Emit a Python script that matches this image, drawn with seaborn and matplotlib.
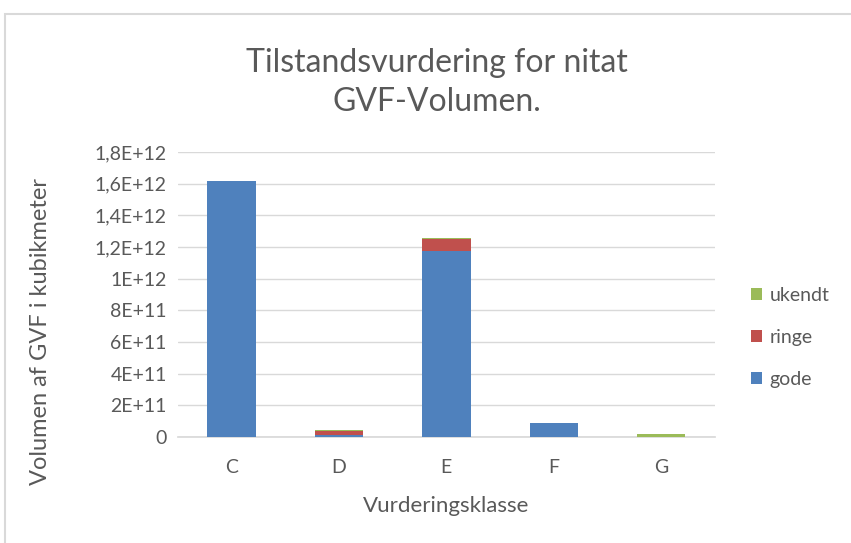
import numpy as np
import pandas as pd
import seaborn as sns
import matplotlib.pyplot as plt
from matplotlib.patches import Rectangle

sns.set_theme(style="white")
plt.rcParams['font.family'] = ['Lato', 'DejaVu Sans']

# data
klasser = ['C', 'D', 'E', 'F', 'G']
gode = [1.62e12, 1.5e10, 1.175e12, 8.8e10, 0.0]
ringe = [0.0, 2.2e10, 7.6e10, 0.0, 0.0]
ukendt = [0.0, 6e9, 5e9, 0.0, 1.8e10]
yticks = [0, 2e11, 4e11, 6e11, 8e11, 1e12, 1.2e12, 1.4e12, 1.6e12, 1.8e12]
ytick_labels = ['0', '2E+11', '4E+11', '6E+11', '8E+11', '1E+12',
                '1,2E+12', '1,4E+12', '1,6E+12', '1,8E+12']

colors = {'gode': '#4F81BD', 'ringe': '#C0504D', 'ukendt': '#9BBB59'}
txt = '#595959'

df = pd.DataFrame({'klasse': klasser, 'gode': gode, 'ringe': ringe, 'ukendt': ukendt})
df['gr'] = df['gode'] + df['ringe']
df['alle'] = df['gr'] + df['ukendt']

fig = plt.figure(figsize=(8.51, 5.43), dpi=100)
ax = fig.add_axes([0.209, 0.195, 0.631, 0.525])

# stacked bars: draw totals first, then overdraw lower parts
sns.barplot(data=df, x='klasse', y='alle', color=colors['ukendt'], width=0.45,
            saturation=1, ax=ax, zorder=3, label='ukendt', linewidth=0)
sns.barplot(data=df, x='klasse', y='gr', color=colors['ringe'], width=0.45,
            saturation=1, ax=ax, zorder=3, label='ringe', linewidth=0)
sns.barplot(data=df, x='klasse', y='gode', color=colors['gode'], width=0.45,
            saturation=1, ax=ax, zorder=3, label='gode', linewidth=0)

ax.set_ylim(0, 1.8e12)
ax.set_yticks(yticks)
ax.set_yticklabels(ytick_labels)
ax.yaxis.grid(True, color='#d9d9d9', linewidth=1, zorder=0)
for s in ['top', 'right', 'left']:
    ax.spines[s].set_visible(False)
ax.spines['bottom'].set_color('#d9d9d9')
ax.tick_params(axis='y', length=0, labelsize=14, colors=txt, pad=8)
ax.tick_params(axis='x', length=0, labelsize=14, colors=txt, pad=16)

ax.set_xlabel('Vurderingsklasse', fontsize=16, color=txt, labelpad=14)
ax.set_ylabel('Volumen af GVF i kubikmeter', fontsize=17, color=txt)
ax.yaxis.set_label_coords(-0.237, 0.37)
fig.text(0.513, 0.848, 'Tilstandsvurdering for nitat\nGVF-Volumen.', ha='center',
         va='center', fontsize=23, color=txt, linespacing=1.4)

leg = ax.legend(loc='center left', bbox_to_anchor=(1.035, 0.35), frameon=False,
                fontsize=14, labelcolor=txt, handlelength=0.55, handleheight=0.55,
                handletextpad=0.4, labelspacing=1.3)

# chart frame
fig.add_artist(Rectangle((0.006, -0.01), 1.0, 0.985, transform=fig.transFigure,
                         fill=False, edgecolor='#d9d9d9', linewidth=1.5))

fig.savefig('out.png', dpi=100)
